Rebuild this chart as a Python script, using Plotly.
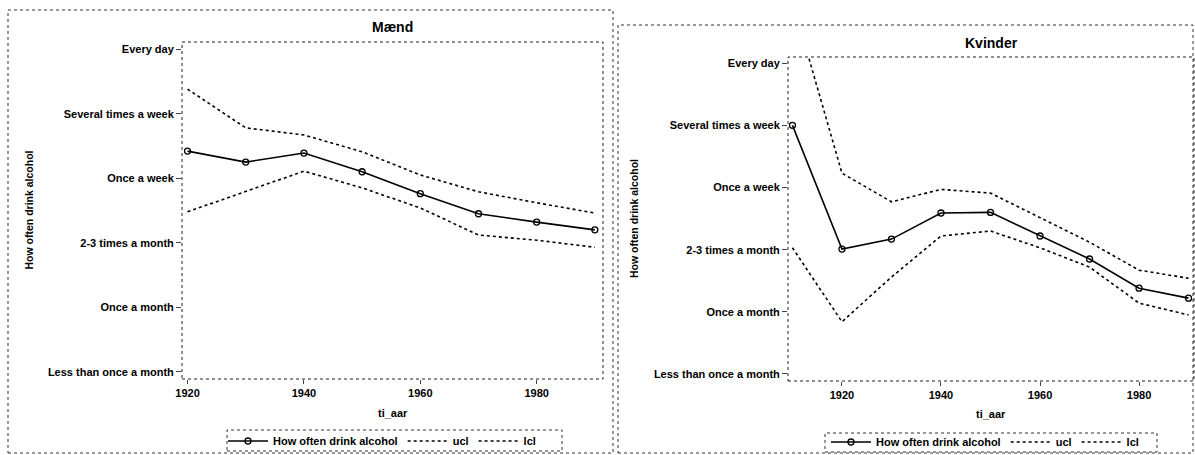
import plotly.graph_objects as go

W, H = 1195, 455

# ---------------- data ----------------
freq_labels = ["Less than once a month", "Once a month", "2-3 times a month",
               "Once a week", "Several times a week", "Every day"]
freq_codes = [1, 2, 3, 4, 5, 6]
x_ticks = [1920, 1940, 1960, 1980]

years_m = [1920, 1930, 1940, 1950, 1960, 1970, 1980, 1990]
drink_m = [4.42, 4.25, 4.39, 4.10, 3.76, 3.45, 3.32, 3.20]
ucl_m = [5.38, 4.78, 4.67, 4.41, 4.05, 3.79, 3.62, 3.46]
lcl_m = [3.48, 3.79, 4.11, 3.85, 3.54, 3.12, 3.04, 2.93]

years_k = [1910, 1920, 1930, 1940, 1950, 1960, 1970, 1980, 1990]
drink_k = [5.00, 3.01, 3.17, 3.59, 3.60, 3.22, 2.85, 2.38, 2.22]
ucl_k = [7.00, 4.23, 3.77, 3.97, 3.91, 3.52, 3.12, 2.67, 2.54]
lcl_k = [3.03, 1.84, 2.56, 3.22, 3.30, 3.03, 2.72, 2.14, 1.95]

titles = ["Mænd", "Kvinder"]
series_names = ["How often drink alcohol", "ucl", "lcl"]
y_title = "How often drink alcohol"
x_title = "ti_aar"

FONT = "Liberation Sans, Arial, sans-serif"


def px(x):
    return x / W


def py(y):
    return 1 - y / H


fig = go.Figure()

panels = [
    dict(years=years_m, drink=drink_m, ucl=ucl_m, lcl=lcl_m, xa="x", ya="y", leg="legend"),
    dict(years=years_k, drink=drink_k, ucl=ucl_k, lcl=lcl_k, xa="x2", ya="y2", leg="legend2"),
]

for p in panels:
    fig.add_trace(go.Scatter(
        x=p["years"], y=p["drink"], name=series_names[0], mode="lines+markers",
        line=dict(color="black", width=1.6),
        marker=dict(symbol="circle-open", size=6, color="black", line=dict(width=1.3)),
        xaxis=p["xa"], yaxis=p["ya"], legend=p["leg"]))
    fig.add_trace(go.Scatter(
        x=p["years"], y=p["ucl"], name=series_names[1], mode="lines",
        line=dict(color="black", width=1.6, dash="3px,3px"),
        xaxis=p["xa"], yaxis=p["ya"], legend=p["leg"]))
    fig.add_trace(go.Scatter(
        x=p["years"], y=p["lcl"], name=series_names[2], mode="lines",
        line=dict(color="black", width=1.6, dash="3px,3px"),
        xaxis=p["xa"], yaxis=p["ya"], legend=p["leg"]))

tickfont = dict(family=FONT, size=11, color="black", weight="bold")

common_x = dict(tickvals=x_ticks, ticks="outside", ticklen=4, tickcolor="#444",
                showgrid=False, zeroline=False, showline=False, tickfont=tickfont)
common_y = dict(tickvals=freq_codes, ticktext=freq_labels, ticks="outside", ticklen=5,
                tickcolor="#444", showgrid=False, zeroline=False, showline=False,
                tickfont=tickfont)

# plot-area pixel boxes: (left, top, right, bottom)
boxL = (182, 42, 603, 379)
boxR = (788, 57, 1194, 381)

legfont = dict(family=FONT, size=11, color="black", weight="bold")

fig.update_layout(
    width=W, height=H,
    margin=dict(l=0, r=0, t=0, b=0, autoexpand=False),
    paper_bgcolor="white", plot_bgcolor="white",
    font=dict(family=FONT, color="black"),
    xaxis=dict(domain=[px(boxL[0]), px(boxL[2])], range=[1919.05, 1991.4], anchor="y", **common_x),
    yaxis=dict(domain=[py(boxL[3]), py(boxL[1])], range=[0.89, 6.11], anchor="x", **common_y),
    xaxis2=dict(domain=[px(boxR[0]), px(boxR[2])], range=[1909.1, 1991.1], anchor="y2", **common_x),
    yaxis2=dict(domain=[py(boxR[3]), py(boxR[1])], range=[0.887, 6.10], anchor="x2", **common_y),
    legend=dict(x=px(223), y=py(441), xanchor="left", yanchor="middle", orientation="h",
                font=legfont, bgcolor="rgba(0,0,0,0)", itemwidth=40, tracegroupgap=0),
    legend2=dict(x=px(826), y=py(442), xanchor="left", yanchor="middle", orientation="h",
                 font=legfont, bgcolor="rgba(0,0,0,0)", itemwidth=40, tracegroupgap=0),
)

frame = dict(color="#333", width=1, dash="dot")


def rect(x0, y0, x1, y1, line=frame):
    fig.add_shape(type="rect", xref="paper", yref="paper",
                  x0=px(x0), y0=py(y1), x1=px(x1), y1=py(y0), line=line,
                  fillcolor="rgba(0,0,0,0)", layer="above")


# outer panel frames
rect(8, 10, 613, 453)
rect(618, 25, 1193, 453)
# plot areas
rect(*boxL, line=dict(color="#222", width=1, dash="dot"))
rect(*boxR, line=dict(color="#222", width=1, dash="dot"))
# legend frames
rect(227, 430, 562, 451)
rect(825, 433, 1157, 452)

title_font = dict(family=FONT, size=14, color="black", weight="bold")
ann_font = dict(family=FONT, size=11, color="black", weight="bold")
# titles
fig.add_annotation(text=titles[0], x=px((boxL[0] + boxL[2]) / 2), y=py(27), xref="paper", yref="paper",
                   showarrow=False, font=title_font, xanchor="center", yanchor="middle")
fig.add_annotation(text=titles[1], x=px((boxR[0] + boxR[2]) / 2), y=py(43), xref="paper", yref="paper",
                   showarrow=False, font=title_font, xanchor="center", yanchor="middle")
# x-axis titles
fig.add_annotation(text=x_title, x=px((boxL[0] + boxL[2]) / 2), y=py(413), xref="paper", yref="paper",
                   showarrow=False, font=ann_font, xanchor="center", yanchor="middle")
fig.add_annotation(text=x_title, x=px((boxR[0] + boxR[2]) / 2), y=py(414), xref="paper", yref="paper",
                   showarrow=False, font=ann_font, xanchor="center", yanchor="middle")
# y-axis titles
yt_font = dict(family=FONT, size=10.5, color="black", weight="bold")
fig.add_annotation(text=y_title, x=px(28), y=py((boxL[1] + boxL[3]) / 2), xref="paper", yref="paper",
                   showarrow=False, font=yt_font, textangle=-90, xanchor="center", yanchor="middle")
fig.add_annotation(text=y_title, x=px(634), y=py((boxR[1] + boxR[3]) / 2), xref="paper", yref="paper",
                   showarrow=False, font=yt_font, textangle=-90, xanchor="center", yanchor="middle")

fig.write_html("out.html", config={"displayModeBar": False},
               post_script="document.body.style.margin='0';")
